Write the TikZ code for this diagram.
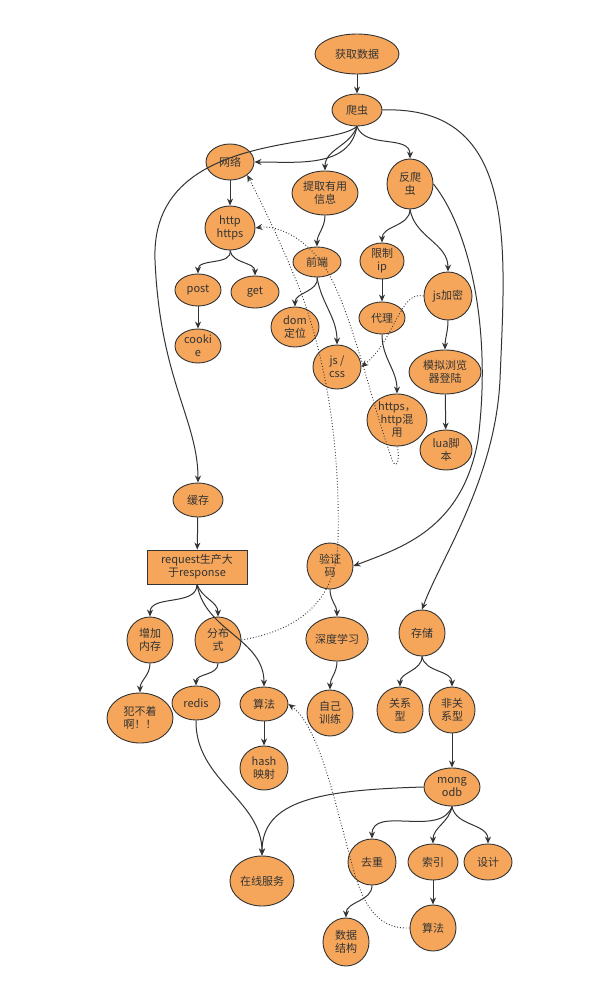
\documentclass[tikz,border=0pt]{standalone}
\usepackage{fontspec}
\setmainfont{Noto Sans CJK SC}
\usetikzlibrary{shapes.geometric,arrows.meta}
\definecolor{org}{HTML}{F5A65B}
\definecolor{ln}{HTML}{333333}
\begin{document}
\begin{tikzpicture}[x=1pt,y=-1pt,
 n/.style={ellipse,draw=ln,line width=0.9pt,fill=org,inner sep=0pt,align=center,font=\fontsize{11}{13}\selectfont,text=ln},
 a/.style={draw=ln,line width=1pt,-{Stealth[length=7pt,width=6pt]}},
 d/.style={draw=ln,line width=0.9pt,dotted,-{Stealth[length=7pt,width=6pt]}}]
\useasboundingbox (0,0) rectangle (600,987);
\fill[white] (0,0) rectangle (600,987);
\newcommand{\N}[6]{\node[n,minimum width=#4pt,minimum height=#5pt] (#1) at (#2,#3) {#6};}
\N{hq}{357}{54}{84}{40}{获取数据}
\N{pc}{357}{110}{50}{32}{爬虫}
\N{wl}{230}{162}{48}{36}{网络}
\N{tq}{325}{193}{66}{44}{提取有用\\信息}
\N{fp}{410}{184}{46}{50}{反爬\\虫}
\N{ht}{230}{228}{50}{44}{http\\https}
\N{qd}{317}{262}{48}{30}{前端}
\N{xz}{382}{261}{44}{36}{限制\\ip}
\N{jj}{448}{296}{48}{48}{js加密}
\N{po}{198}{290}{46}{32}{post}
\N{ge}{255}{292}{48}{32}{get}
\N{co}{198}{346}{46}{34}{cooki\\e}
\N{dom}{295}{327}{48}{40}{dom\\定位}
\N{dl}{382}{318}{46}{32}{代理}
\N{jc}{337}{367}{48}{44}{js /\\css}
\N{mn}{445}{372}{72}{44}{模拟浏览\\器登陆}
\N{hh}{397}{420}{60}{52}{https，\\http混\\用}
\N{lua}{446}{450}{52}{40}{lua脚\\本}
\N{hc}{198}{500}{50}{34}{缓存}
\node[draw=ln,line width=0.9pt,fill=org,align=center,font=\fontsize{11}{13}\selectfont,text=ln,minimum width=100pt,minimum height=34pt,inner sep=1pt] (rq) at (197,567) {request生产大\\于response};
\N{yz}{330}{566}{46}{46}{验证\\码}
\N{zj}{150}{640}{46}{46}{增加\\内存}
\N{fb}{218}{640}{46}{46}{分布\\式}
\N{sd}{337}{639}{62}{44}{深度学习}
\N{cc}{422}{633}{46}{46}{存储}
\N{re}{196}{703}{48}{34}{redis}
\N{sf}{264}{704}{48}{34}{算法}
\N{zx}{330}{713}{46}{46}{自己\\训练}
\N{gx}{400}{710}{46}{46}{关系\\型}
\N{fg}{452}{710}{46}{46}{非关\\系型}
\N{fz}{140}{718}{66}{50}{犯不着\\啊！！}
\N{hs}{264}{768}{48}{44}{hash\\映射}
\N{mg}{452}{787}{56}{38}{mong\\odb}
\N{qc}{372}{862}{48}{46}{去重}
\N{sy}{433}{862}{50}{36}{索引}
\N{sj}{488}{862}{48}{36}{设计}
\N{zs}{262}{881}{64}{50}{在线服务}
\N{sg}{346}{942}{46}{48}{数据\\结构}
\N{sf2}{433}{928}{46}{46}{算法}
% solid
\draw[a] (hq) -- (pc);
\draw[a] (pc.south) to[out=-100,in=0] (wl.east);
\draw[a] (pc.south) to[out=-110,in=90] (tq.north);
\draw[a] (pc.south) to[out=-70,in=90] (fp.north);
\draw[a] (pc.south) .. controls (330,150) and (150,130) .. (155,260) .. controls (160,380) and (198,420) .. (hc.north);
\draw[a] (pc.east) .. controls (520,105) and (505,250) .. (500,380) .. controls (495,480) and (440,560) .. (cc.north);
\draw[a] (fp.east) .. controls (470,230) and (492,330) .. (478,440) .. controls (462,530) and (400,548) .. (yz.east);
\draw[a] (wl) -- (ht);
\draw[a] (ht.south) to[out=-80,in=90] (po.north);
\draw[a] (ht.south) to[out=-80,in=90] (ge.north);
\draw[a] (po) -- (co);
\draw[a] (tq.south) to[out=-90,in=90] (qd.north);
\draw[a] (qd.south) to[out=-80,in=90] (dom.north);
\draw[a] (qd.south) to[out=-80,in=90] (jc.north);
\draw[a] (fp.south) to[out=-90,in=90] (xz.north);
\draw[a] (fp.south) to[out=-80,in=90] (jj.north);
\draw[a] (xz) -- (dl);
\draw[a] (dl.south) to[out=-90,in=90] (hh.north);
\draw[a] (jj.south) to[out=-90,in=90] (mn.north);
\draw[a] (mn) -- (lua);
\draw[a] (hc) -- (rq);
\draw[a] (rq.south) to[out=-90,in=90] (zj.north);
\draw[a] (rq.south) to[out=-70,in=90] (fb.north);
\draw[a] (rq.south) to[out=-80,in=90] (sf.north);
\draw[a] (fb.south) to[out=-90,in=90] (re.north);
\draw[a] (zj.south) to[out=-90,in=90] (fz.north);
\draw[a] (sf) -- (hs);
\draw[a] (re.south) .. controls (195,780) and (262,800) .. (zs.north);
\draw[a] (mg.west) .. controls (320,790) and (262,800) .. (zs.north);
\draw[a] (yz.south) to[out=-90,in=90] (sd.north);
\draw[a] (sd.south) to[out=-90,in=90] (zx.north);
\draw[a] (cc.south) to[out=-90,in=90] (gx.north);
\draw[a] (cc.south) to[out=-80,in=90] (fg.north);
\draw[a] (fg) -- (mg);
\draw[a] (mg.south) to[out=-110,in=90] (qc.north);
\draw[a] (mg.south) to[out=-100,in=90] (sy.north);
\draw[a] (mg.south) to[out=-80,in=90] (sj.north);
\draw[a] (qc.south) to[out=-90,in=90] (sg.north);
\draw[a] (sy) -- (sf2);
% dotted
\draw[d] (fb.east) .. controls (300,630) and (337,600) .. (338,540) .. controls (340,460) and (330,370) .. (300,290) .. controls (280,240) and (260,200) .. (wl.south east);
\draw[d] (hh.south) .. controls (400,455) and (398,470) .. (393,462) .. controls (370,400) and (350,300) .. (320,260) .. controls (300,235) and (275,225) .. (ht.east);
\draw[d] (jj.west) .. controls (400,290) and (395,340) .. (jc.east);
\draw[d] (sf2.west) .. controls (360,930) and (355,870) .. (340,820) .. controls (325,760) and (310,720) .. (sf.east);
\end{tikzpicture}
\end{document}
